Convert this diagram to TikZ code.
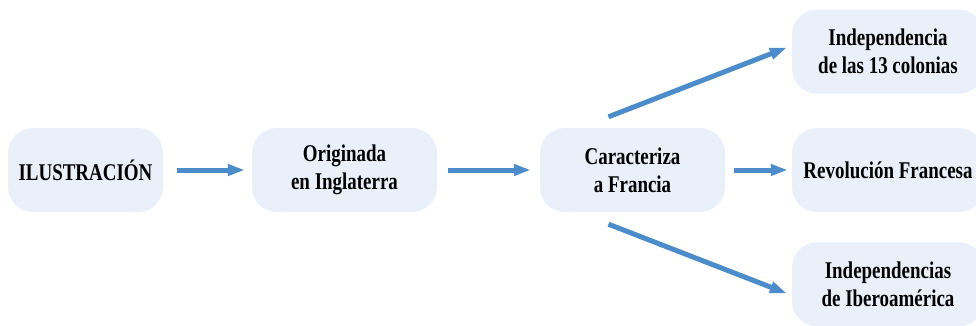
\documentclass[tikz,border=0pt]{standalone}
\usepackage{fontspec}
\setmainfont{Liberation Serif}[FakeStretch=0.79]
\usepackage{tikz}
\usetikzlibrary{positioning,arrows.meta}

\definecolor{boxfill}{HTML}{E9F0F9}
\definecolor{arrowblue}{HTML}{4C8CCB}

\tikzset{
  box/.style={fill=boxfill, rounded corners=25pt, minimum height=84pt, align=center,
    font=\fontsize{24}{28}\selectfont\bfseries, inner sep=0pt},
  link/.style={draw=arrowblue, line width=5pt, -{Triangle[length=17pt,width=11pt]}}
}

\begin{document}
\begin{tikzpicture}[x=1pt,y=-1pt]
  \useasboundingbox (0,0) rectangle (976,326);
  \clip (0,0) rectangle (976,326);
  \node (ilu) [box, minimum width=155pt] at (85.5,170) {ILUSTRACIÓN};
  \node (orig) [box, minimum width=185pt] at (344.5,170) {Originada\\en Inglaterra};
  \node (car) [box, minimum width=185pt] at (632.5,170) {Caracteriza\\a Francia};
  \node (rev) [box, minimum width=192pt] at (888,170) {Revolución Francesa};
  \node (col) [box, minimum width=192pt, above=34pt of rev] {Independencia\\de las 13 colonias};
  \node (ibe) [box, minimum width=192pt, below=30pt of rev] {Independencias\\de Iberoamérica};
  \coordinate (c1) at ([xshift=-24pt,yshift=11pt]car.north);
  \coordinate (c2) at ([xshift=-24pt,yshift=-12pt]car.south);
  \draw[link, shorten <=14pt, shorten >=7pt] (ilu) -- (orig);
  \draw[link, shorten <=11pt, shorten >=9pt] (orig) -- (car);
  \draw[link, shorten <=9pt, shorten >=4pt] (car) -- (rev);
  \draw[link] (c1) -- ([xshift=-5pt,yshift=4pt]col.west);
  \draw[link] (c2) -- ([xshift=-5pt,yshift=-9pt]ibe.west);
\end{tikzpicture}
\end{document}
